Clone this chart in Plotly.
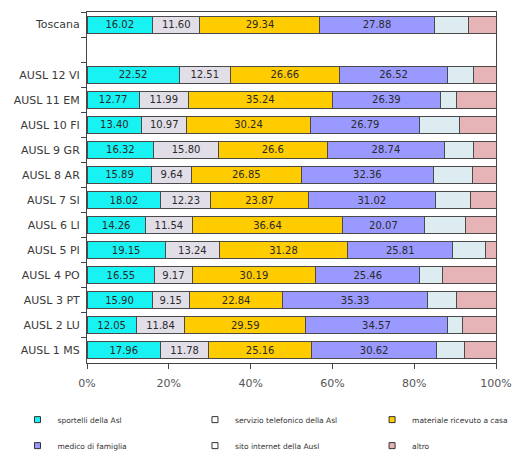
import plotly.graph_objects as go

# Categories from top to bottom (the blank entry separates the regional total)
categorie = ["Toscana", " ", "AUSL 12 VI", "AUSL 11 EM", "AUSL 10 FI", "AUSL 9 GR",
             "AUSL 8 AR", "AUSL 7 SI", "AUSL 6 LI", "AUSL 5 PI", "AUSL 4 PO",
             "AUSL 3 PT", "AUSL 2 LU", "AUSL 1 MS"]

# Percentages per information channel (labelled series kept as printed strings)
sportelli = ["16.02", None, "22.52", "12.77", "13.40", "16.32", "15.89", "18.02",
             "14.26", "19.15", "16.55", "15.90", "12.05", "17.96"]
telefono = ["11.60", None, "12.51", "11.99", "10.97", "15.80", "9.64", "12.23",
            "11.54", "13.24", "9.17", "9.15", "11.84", "11.78"]
materiale = ["29.34", None, "26.66", "35.24", "30.24", "26.6", "26.85", "23.87",
             "36.64", "31.28", "30.19", "22.84", "29.59", "25.16"]
medico = ["27.88", None, "26.52", "26.39", "26.79", "28.74", "32.36", "31.02",
          "20.07", "25.81", "25.46", "35.33", "34.57", "30.62"]
sito = [8.32, None, 6.26, 4.00, 9.64, 7.08, 9.56, 8.67, 9.92, 8.00, 5.43, 7.17, 3.64, 6.66]
altro = [6.84, None, 5.53, 9.61, 8.96, 5.46, 5.70, 6.19, 7.57, 2.52, 13.20, 9.61, 8.31, 7.82]

x_ticks = [0, 20, 40, 60, 80, 100]

FONT = "DejaVu Sans"
EDGE = "#4a4a4a"


def num(vals):
    return [None if v is None else float(v) for v in vals]


# name, values, bar colour, legend key colour, value labels, legend column
serie = [
    ("sportelli della Asl", sportelli, "#19F2F2", "#19F2F2", True, "legend"),
    ("servizio telefonico della Asl", telefono, "#E2DEE8", "#FFFFFF", True, "legend2"),
    ("materiale ricevuto a casa", materiale, "#FFCC00", "#FFCC00", True, "legend3"),
    ("medico di famiglia", medico, "#9999FF", "#9999FF", True, "legend"),
    ("sito internet della Ausl", sito, "#DCECF1", "#FFFFFF", False, "legend2"),
    ("altro", altro, "#E6B3B6", "#E6B3B6", False, "legend3"),
]

fig = go.Figure()

for nome, vals, col, legcol, labelled, leg in serie:
    fig.add_trace(go.Bar(
        y=categorie,
        x=num(vals),
        orientation="h",
        name=nome,
        marker=dict(color=col, line=dict(color=EDGE, width=1)),
        text=[v if v is not None else "" for v in vals] if labelled else None,
        textposition="inside" if labelled else "none",
        insidetextanchor="middle",
        textangle=0,
        constraintext="none",
        textfont=dict(family=FONT, size=10, color="#2a2a2a"),
        showlegend=False,
        hoverinfo="x+name",
    ))
    # legend key: small bordered square
    fig.add_trace(go.Scatter(
        x=[None], y=[None],
        mode="markers",
        name=nome,
        legend=leg,
        legendgroup=nome,
        marker=dict(symbol="square", size=6, color=legcol,
                    line=dict(color="#333333", width=1)),
        showlegend=True,
    ))

leg_common = dict(
    orientation="v",
    xanchor="left",
    yanchor="top",
    y=-0.12,
    font=dict(family=FONT, size=7.5, color="#333333"),
    itemwidth=30,
    bgcolor="rgba(0,0,0,0)",
    traceorder="grouped",
    tracegroupgap=7,
)

fig.update_layout(
    width=513,
    height=452,
    margin=dict(l=87, r=17, t=12, b=89, autoexpand=False),
    paper_bgcolor="white",
    plot_bgcolor="white",
    barmode="stack",
    bargap=0.32,
    legend=dict(x=-0.17, **leg_common),
    legend2=dict(x=0.264, **leg_common),
    legend3=dict(x=0.697, **leg_common),
    xaxis=dict(
        range=[0, 100],
        tickvals=x_ticks,
        ticktext=[f"{t}%" for t in x_ticks],
        showgrid=False,
        zeroline=False,
        showline=True,
        mirror=True,
        linecolor="#444444",
        linewidth=1,
        ticks="outside",
        ticklen=5,
        tickcolor="#444444",
        ticklabelstandoff=5,
        tickfont=dict(family=FONT, size=11, color="#555555"),
        fixedrange=True,
    ),
    yaxis=dict(
        type="category",
        categoryorder="array",
        categoryarray=categorie,
        autorange="reversed",
        showgrid=False,
        zeroline=False,
        showline=True,
        mirror=True,
        linecolor="#444444",
        linewidth=1,
        ticks="outside",
        tickson="boundaries",
        ticklen=5,
        tickcolor="#444444",
        ticklabelstandoff=4,
        tickfont=dict(family=FONT, size=11, color="#3a3a3a"),
        fixedrange=True,
    ),
)

fig.write_html("out.html")
